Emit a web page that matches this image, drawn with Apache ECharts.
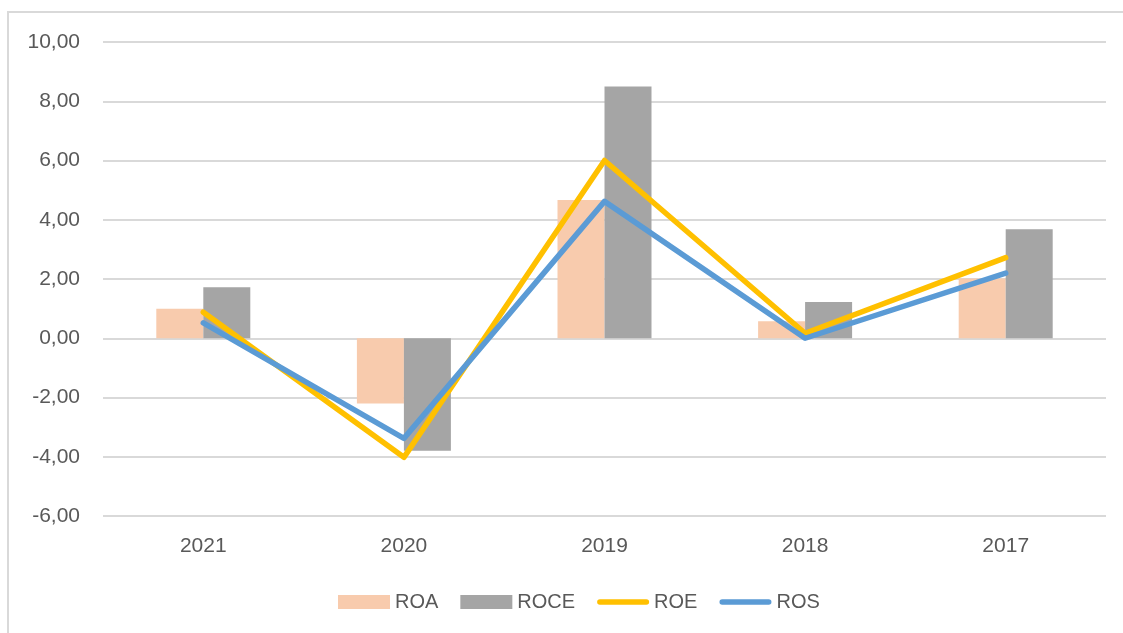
<!DOCTYPE html>
<html>
<head>
<meta charset="utf-8">
<script src="https://cdn.jsdelivr.net/npm/echarts@6/dist/echarts.min.js"></script>
<style>
html,body{margin:0;padding:0;background:#fff;}
#chart{width:1123px;height:633px;}
</style>
</head>
<body>
<div id="chart"></div>
<script>
var categories = ['2021', '2020', '2019', '2018', '2017'];
var roa  = [1.00, -2.20, 4.67, 0.57, 2.02];
var roce = [1.72, -3.80, 8.50, 1.22, 3.68];
var roe  = [0.88, -4.02, 6.00, 0.17, 2.72];
var ros  = [0.52, -3.38, 4.62, 0.00, 2.20];
var yMin = -6, yMax = 10, yStep = 2;

var FONT = 'Liberation Sans';
var TXT = '#595959';
var LINE_ICON = 'path://M3,0 L53,0 A3,3 0 0 1 53,6 L3,6 A3,3 0 0 1 3,0 Z';

var chart = echarts.init(document.getElementById('chart'), null, {renderer: 'canvas'});
chart.setOption({
  backgroundColor: '#ffffff',
  animation: false,
  graphic: [{
    type: 'rect',
    shape: {x: 8, y: 12, width: 1300, height: 800},
    style: {fill: 'none', stroke: '#D9D9D9', lineWidth: 2},
    silent: true, z: -10
  }],
  grid: {left: 103, right: 17, top: 42, bottom: 117, containLabel: false},
  legend: {
    left: 333, top: 587,
    itemWidth: 52, itemHeight: 14, itemGap: 22,
    textStyle: {color: TXT, fontSize: 20, fontFamily: FONT},
    data: [
      {name: 'ROA', icon: 'rect'},
      {name: 'ROCE', icon: 'rect'},
      {name: 'ROE', icon: LINE_ICON, itemStyle: {color: '#FFC000', borderWidth: 0}},
      {name: 'ROS', icon: LINE_ICON, itemStyle: {color: '#5B9BD5', borderWidth: 0}}
    ]
  },
  xAxis: {
    type: 'category',
    data: categories,
    axisLine: {show: false},
    axisTick: {show: false},
    axisLabel: {color: TXT, fontSize: 21, fontFamily: FONT, margin: 20},
    splitLine: {show: false}
  },
  yAxis: {
    type: 'value',
    min: yMin, max: yMax, interval: yStep,
    axisLine: {show: false},
    axisTick: {show: false},
    axisLabel: {
      color: TXT, fontSize: 21, fontFamily: FONT, margin: 23,
      formatter: function (v) { return v.toFixed(2).replace('.', ','); }
    },
    splitLine: {lineStyle: {color: '#D9D9D9', width: 2}}
  },
  series: [
    {name: 'ROA', type: 'bar', data: roa, barWidth: 47, barGap: '0%',
     itemStyle: {color: '#F8CBAD'}, z: 2},
    {name: 'ROCE', type: 'bar', data: roce, barWidth: 47, barGap: '0%',
     itemStyle: {color: '#A5A5A5'}, z: 2},
    {name: 'ROE', type: 'line', data: roe, symbol: 'none', z: 4,
     lineStyle: {color: '#FFC000', width: 5.5, cap: 'round', join: 'round'},
     itemStyle: {color: '#FFC000'}},
    {name: 'ROS', type: 'line', data: ros, symbol: 'none', z: 5,
     lineStyle: {color: '#5B9BD5', width: 5.5, cap: 'round', join: 'round'},
     itemStyle: {color: '#5B9BD5'}}
  ]
});
</script>
</body>
</html>
